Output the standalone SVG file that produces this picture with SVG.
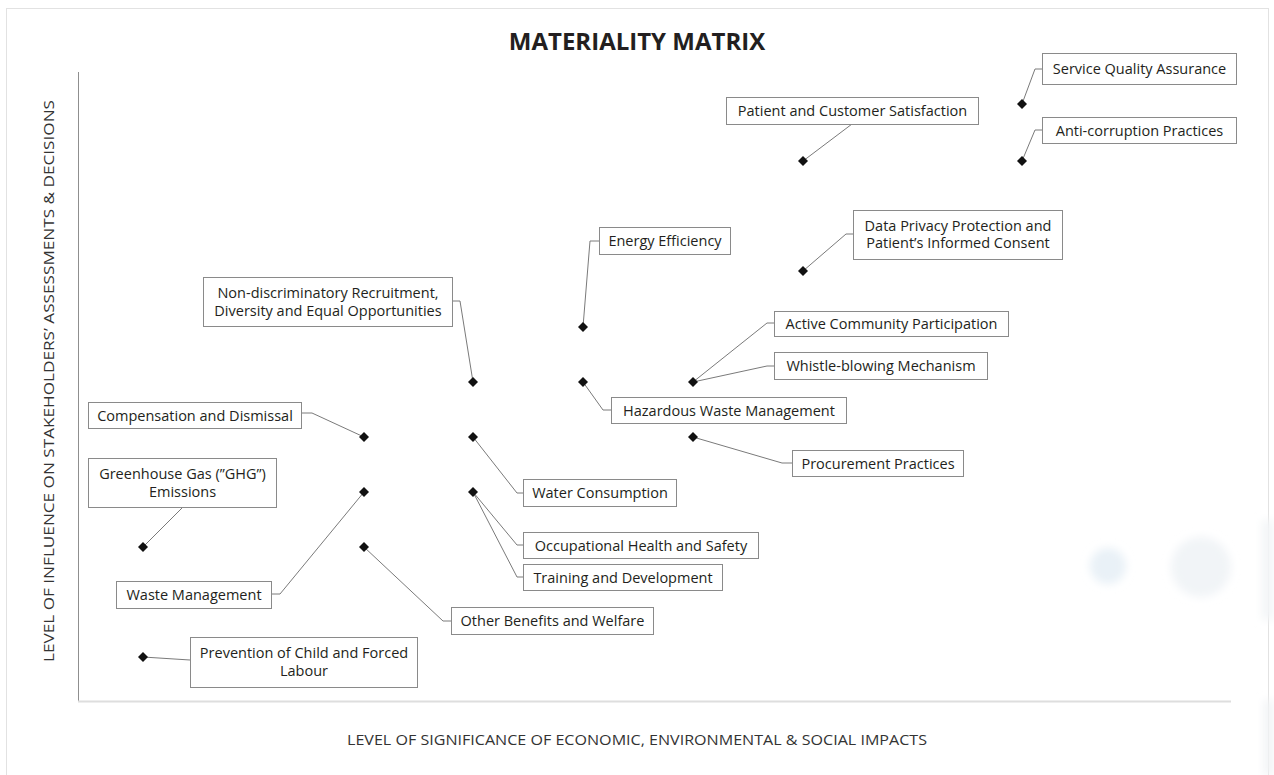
<svg xmlns="http://www.w3.org/2000/svg" width="1274" height="775" viewBox="0 0 1274 775">
<defs>
<style>
.box{fill:#fff;stroke:#8a8a8a;stroke-width:1}
.lbl{font-family:"Open Sans","Noto Sans",sans-serif;font-size:14.5px;fill:#231f20;text-anchor:middle}
.axis{font-family:"Open Sans","Noto Sans",sans-serif;font-size:14px;fill:#333;text-anchor:middle}
.title{font-family:"Open Sans","Noto Sans",sans-serif;font-size:24px;font-weight:bold;fill:#231f20;text-anchor:middle}
.conn{fill:none;stroke:#7a7a7a;stroke-width:1}
.dot{fill:#111}
</style>
<path id="dm" d="M0,-5 L5,0 L0,5 L-5,0 Z"/>
<filter id="blur" x="-50%" y="-50%" width="200%" height="200%"><feGaussianBlur stdDeviation="4"/></filter>
</defs>
<rect x="0" y="0" width="1274" height="775" fill="#fff"/>
<rect x="6.5" y="8.5" width="1262" height="800" fill="none" stroke="#e2e2e2" stroke-width="1"/>
<g id="decor" filter="url(#blur)">
<circle cx="1108" cy="566" r="18" fill="#e9f1f7"/>
<circle cx="1201" cy="567" r="30" fill="#f1f4f7"/>
<rect x="1262" y="520" width="12" height="100" fill="#f3f5f7"/>
<rect x="1264" y="700" width="10" height="75" fill="#f1f3f5"/>
</g>
<g id="axes">
<line x1="78.5" y1="72" x2="78.5" y2="702" stroke="#8f8f8f" stroke-width="1"/>
<line x1="78" y1="701.5" x2="1231" y2="701.5" stroke="#dedede" stroke-width="2"/>
<text class="title" x="637" y="50">MATERIALITY MATRIX</text>
<text class="axis" x="637" y="745" textLength="580" lengthAdjust="spacingAndGlyphs">LEVEL OF SIGNIFICANCE OF ECONOMIC, ENVIRONMENTAL &amp; SOCIAL IMPACTS</text>
<text class="axis" transform="translate(54,381) rotate(-90)" x="0" y="0" textLength="562" lengthAdjust="spacingAndGlyphs">LEVEL OF INFLUENCE ON STAKEHOLDERS’ ASSESSMENTS &amp; DECISIONS</text>
</g>
<g id="connectors">
<polyline class="conn" points="1042,69 1035,69 1022,104"/>
<polyline class="conn" points="852,124 803,161"/>
<polyline class="conn" points="1042,130 1035,130 1022,161"/>
<polyline class="conn" points="853,234 846,234 803,271"/>
<polyline class="conn" points="599,241 590,241 583,327"/>
<polyline class="conn" points="452,301 460,301 473,382"/>
<polyline class="conn" points="774,323 767,323 693,382"/>
<polyline class="conn" points="774,366 767,366 693,382"/>
<polyline class="conn" points="611,410 603,410 583,382"/>
<polyline class="conn" points="301,413 312,413 364,437"/>
<polyline class="conn" points="792,463 782,463 693,437"/>
<polyline class="conn" points="523,493 517,493 473,437"/>
<polyline class="conn" points="183,507 143,547"/>
<polyline class="conn" points="523,545 517,545 473,492"/>
<polyline class="conn" points="523,577 517,577 473,492"/>
<polyline class="conn" points="271,594 280,594 364,492"/>
<polyline class="conn" points="451,621 443,621 364,547"/>
<polyline class="conn" points="190,660 143,657"/>
</g>
<g id="points">
<use href="#dm" class="dot" x="1022" y="104"/>
<use href="#dm" class="dot" x="803" y="161"/>
<use href="#dm" class="dot" x="1022" y="161"/>
<use href="#dm" class="dot" x="803" y="271"/>
<use href="#dm" class="dot" x="583" y="327"/>
<use href="#dm" class="dot" x="473" y="382"/>
<use href="#dm" class="dot" x="583" y="382"/>
<use href="#dm" class="dot" x="693" y="382"/>
<use href="#dm" class="dot" x="364" y="437"/>
<use href="#dm" class="dot" x="473" y="437"/>
<use href="#dm" class="dot" x="693" y="437"/>
<use href="#dm" class="dot" x="143" y="547"/>
<use href="#dm" class="dot" x="364" y="492"/>
<use href="#dm" class="dot" x="473" y="492"/>
<use href="#dm" class="dot" x="364" y="547"/>
<use href="#dm" class="dot" x="143" y="657"/>
</g>
<g id="n-service"><rect class="box" x="1042.5" y="53.5" width="194" height="31"/><text class="lbl" x="1139.5" y="74">Service Quality Assurance</text></g>
<g id="n-patient"><rect class="box" x="726.5" y="97.5" width="252" height="27"/><text class="lbl" x="852.5" y="116">Patient and Customer Satisfaction</text></g>
<g id="n-anti"><rect class="box" x="1042.5" y="117.5" width="194" height="26"/><text class="lbl" x="1139.5" y="135.5">Anti-corruption Practices</text></g>
<g id="n-privacy"><rect class="box" x="853.5" y="210.5" width="209" height="49"/><text class="lbl" x="958" y="230.5">Data Privacy Protection and</text><text class="lbl" x="958" y="248">Patient’s Informed Consent</text></g>
<g id="n-energy"><rect class="box" x="599.5" y="227.5" width="131" height="27"/><text class="lbl" x="665" y="246">Energy Efficiency</text></g>
<g id="n-nondisc"><rect class="box" x="203.5" y="277.5" width="249" height="49"/><text class="lbl" x="328" y="298">Non-discriminatory Recruitment,</text><text class="lbl" x="328" y="315.5">Diversity and Equal Opportunities</text></g>
<g id="n-active"><rect class="box" x="774.5" y="311.5" width="234" height="25"/><text class="lbl" x="891.5" y="329">Active Community Participation</text></g>
<g id="n-whistle"><rect class="box" x="774.5" y="352.5" width="213" height="27"/><text class="lbl" x="881" y="371">Whistle-blowing Mechanism</text></g>
<g id="n-hazardous"><rect class="box" x="611.5" y="397.5" width="235" height="26"/><text class="lbl" x="729" y="415.5">Hazardous Waste Management</text></g>
<g id="n-compensation"><rect class="box" x="88.5" y="402.5" width="213" height="26"/><text class="lbl" x="195" y="420.5">Compensation and Dismissal</text></g>
<g id="n-procurement"><rect class="box" x="792.5" y="450.5" width="171" height="26"/><text class="lbl" x="878" y="468.5">Procurement Practices</text></g>
<g id="n-water"><rect class="box" x="523.5" y="479.5" width="153" height="27"/><text class="lbl" x="600" y="498">Water Consumption</text></g>
<g id="n-ghg"><rect class="box" x="88.5" y="458.5" width="188" height="49"/><text class="lbl" x="182.5" y="478.5">Greenhouse Gas (”GHG”)</text><text class="lbl" x="182.5" y="496.5">Emissions</text></g>
<g id="n-ohs"><rect class="box" x="523.5" y="532.5" width="235" height="26"/><text class="lbl" x="641" y="550.5">Occupational Health and Safety</text></g>
<g id="n-training"><rect class="box" x="523.5" y="564.5" width="199" height="26"/><text class="lbl" x="623" y="582.5">Training and Development</text></g>
<g id="n-waste"><rect class="box" x="116.5" y="581.5" width="155" height="27"/><text class="lbl" x="194" y="600">Waste Management</text></g>
<g id="n-benefits"><rect class="box" x="451.5" y="607.5" width="202" height="27"/><text class="lbl" x="552.5" y="626">Other Benefits and Welfare</text></g>
<g id="n-prevention"><rect class="box" x="190.5" y="637.5" width="227" height="50"/><text class="lbl" x="304" y="658">Prevention of Child and Forced</text><text class="lbl" x="304" y="676">Labour</text></g>
</svg>
